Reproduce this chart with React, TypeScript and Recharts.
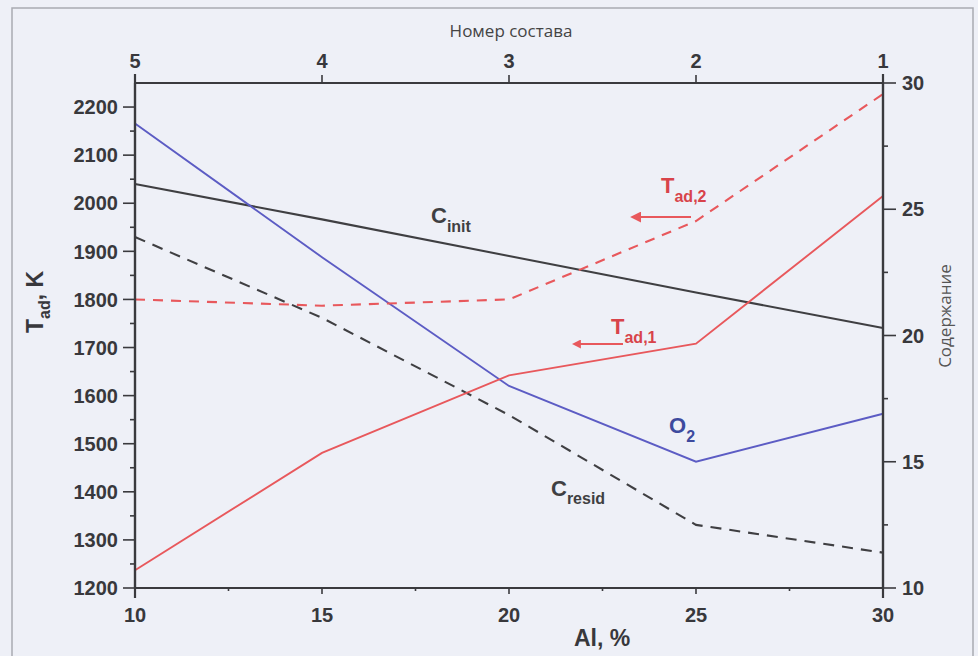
import React from 'react'
import { ComposedChart, Line, XAxis, YAxis } from 'recharts'

// Al content, % (bottom axis) and matching composition numbers (top axis)
const alPercent = [10, 15, 20, 25, 30]
const compositionNumbers = ['5', '4', '3', '2', '1']

// adiabatic temperatures, K (left axis)
const tad1 = [1237, 1481, 1642, 1708, 2015]
const tad2 = [1800, 1787, 1800, 1963, 2227]

// contents (right axis)
const o2 = [28.4, 23.1, 18.0, 15.0, 16.9]
const cInit = [26.0, 24.6, 23.15, 21.7, 20.3]
const cResid = [23.9, 20.7, 16.85, 12.5, 11.4]

const alTicks = [10, 12.5, 15, 17.5, 20, 22.5, 25, 27.5, 30]
const tempTicks = [
  1200, 1250, 1300, 1350, 1400, 1450, 1500, 1550, 1600, 1650, 1700, 1750,
  1800, 1850, 1900, 1950, 2000, 2050, 2100, 2150, 2200,
]
const contentTicks = [10, 12.5, 15, 17.5, 20, 22.5, 25, 27.5, 30]

const data = alPercent.map((al, i) => ({
  al,
  tad1: tad1[i],
  tad2: tad2[i],
  o2: o2[i],
  cInit: cInit[i],
  cResid: cResid[i],
}))

const axisColor = '#3a3a3e'
const labelColor = '#38383c'
const red = '#e8585c'
const redText = '#d8434a'
const blue = '#5c5cc4'
const blueText = '#3d4a9e'
const dark = '#3f3f42'
const font = '"Liberation Sans", Arial, sans-serif'

function LeftTick({ x, y, payload }: any) {
  const v = payload.value
  const major = v % 100 === 0
  return (
    <g>
      <line x1={x} x2={x - (major ? 12 : 5)} y1={y} y2={y} stroke={axisColor} strokeWidth={1.6} />
      {major && (
        <text x={x - 17} y={y} dy="0.36em" textAnchor="end" fontSize={20} fontWeight="bold" fontFamily={font} fill={labelColor}>
          {v}
        </text>
      )}
    </g>
  )
}

function RightTick({ x, y, payload }: any) {
  const v = payload.value
  const major = v % 5 === 0
  return (
    <g>
      <line x1={x} x2={x + (major ? 13 : 5)} y1={y} y2={y} stroke={axisColor} strokeWidth={1.6} />
      {major && (
        <text x={x + 19} y={y} dy="0.36em" textAnchor="start" fontSize={20} fontWeight="bold" fontFamily={font} fill={labelColor}>
          {v}
        </text>
      )}
    </g>
  )
}

function BottomTick({ x, y, payload }: any) {
  const v = payload.value
  const major = v % 5 === 0
  return (
    <g>
      {v !== 10 && v !== 30 && (
        <line x1={x} x2={x} y1={y} y2={y + (major ? 6 : 3)} stroke={axisColor} strokeWidth={1.6} />
      )}
      {major && (
        <text x={x} y={y + 34} textAnchor="middle" fontSize={20} fontWeight="bold" fontFamily={font} fill={labelColor}>
          {v}
        </text>
      )}
    </g>
  )
}

function TopTick({ x, y, payload, index }: any) {
  const v = payload.value
  return (
    <g>
      {v !== 10 && v !== 30 && (
        <line x1={x} x2={x} y1={y} y2={y - 8} stroke={axisColor} strokeWidth={1.6} />
      )}
      <text x={x} y={y - 15} textAnchor="middle" fontSize={20} fontWeight="bold" fontFamily={font} fill={labelColor}>
        {compositionNumbers[index]}
      </text>
    </g>
  )
}

export default function App() {
  return (
    <div style={{ position: 'absolute', left: 0, top: 0, width: 978, height: 656, background: '#eef0f7', overflow: 'hidden' }}>
      <ComposedChart width={978} height={656} data={data} margin={{ top: 53, right: 35, bottom: 38, left: 75 }}>
        <XAxis
          xAxisId="bottom"
          dataKey="al"
          type="number"
          domain={[10, 30]}
          ticks={alTicks}
          height={30}
          tickSize={0}
          tickMargin={0}
          tick={<BottomTick />}
          tickLine={false}
          axisLine={{ stroke: axisColor, strokeWidth: 2.2 }}
          interval={0}
        />
        <XAxis
          xAxisId="top"
          orientation="top"
          dataKey="al"
          type="number"
          domain={[10, 30]}
          ticks={alPercent}
          height={30}
          tickSize={0}
          tickMargin={0}
          tick={<TopTick />}
          tickLine={false}
          axisLine={{ stroke: axisColor, strokeWidth: 2.2 }}
          interval={0}
        />
        <YAxis
          yAxisId="left"
          type="number"
          domain={[1200, 2250]}
          ticks={tempTicks}
          width={60}
          tickSize={0}
          tickMargin={0}
          tick={<LeftTick />}
          tickLine={false}
          axisLine={{ stroke: axisColor, strokeWidth: 2.2 }}
          interval={0}
        />
        <YAxis
          yAxisId="right"
          orientation="right"
          type="number"
          domain={[10, 30]}
          ticks={contentTicks}
          width={60}
          tickSize={0}
          tickMargin={0}
          tick={<RightTick />}
          tickLine={false}
          axisLine={{ stroke: axisColor, strokeWidth: 2.2 }}
          interval={0}
        />
        <Line xAxisId="bottom" yAxisId="right" dataKey="cInit" type="linear" stroke={dark} strokeWidth={2.1} dot={false} isAnimationActive={false} />
        <Line xAxisId="bottom" yAxisId="right" dataKey="cResid" type="linear" stroke={dark} strokeWidth={2.1} strokeDasharray="11 8" dot={false} isAnimationActive={false} />
        <Line xAxisId="bottom" yAxisId="right" dataKey="o2" type="linear" stroke={blue} strokeWidth={1.9} dot={false} isAnimationActive={false} />
        <Line xAxisId="bottom" yAxisId="left" dataKey="tad2" type="linear" stroke={red} strokeWidth={2.1} strokeDasharray="10 8" dot={false} isAnimationActive={false} />
        <Line xAxisId="bottom" yAxisId="left" dataKey="tad1" type="linear" stroke={red} strokeWidth={1.9} dot={false} isAnimationActive={false} />
      </ComposedChart>
      <svg width={978} height={656} style={{ position: 'absolute', left: 0, top: 0, pointerEvents: 'none' }}>
        <defs>
          <marker id="arrowRed" viewBox="0 0 10 10" refX="1" refY="5" markerWidth="5" markerHeight="5" orient="auto-start-reverse">
            <path d="M0,0 L10,5 L0,10 z" fill={red} />
          </marker>
        </defs>
        <rect x={12} y={8} width={961} height={660} fill="none" stroke="#a9abb2" strokeWidth={1.5} />
        {/* axis extensions past the frame corners */}
        <line x1={135} x2={135} y1={74} y2={598} stroke={axisColor} strokeWidth={2.2} />
        <line x1={883} x2={883} y1={74} y2={598} stroke={axisColor} strokeWidth={2.2} />

        <text x={511} y={37} textAnchor="middle" fontSize={17} fontFamily='"Open Sans", sans-serif' fill="#444">
          Номер состава
        </text>
        <text x={602} y={646} textAnchor="middle" fontSize={23} fontWeight="bold" fontFamily={font} fill={labelColor}>
          Al, %
        </text>
        <text transform="translate(43,302) rotate(-90)" textAnchor="middle" fontSize={23} fontWeight="bold" fontFamily={font} fill={labelColor}>
          T<tspan fontSize={16} dy={7}>ad</tspan>
          <tspan dy={-7}>, K</tspan>
        </text>
        <text transform="translate(951,316) rotate(-90)" textAnchor="middle" fontSize={17} fontFamily='"Open Sans", sans-serif' fill="#555">
          Содержание
        </text>

        <text x={431} y={223} fontSize={22} fontWeight="bold" fontFamily={font} fill={dark}>
          C<tspan fontSize={16} dy={9}>init</tspan>
        </text>
        <text x={551} y={496} fontSize={22} fontWeight="bold" fontFamily={font} fill={dark}>
          C<tspan fontSize={16} dy={8}>resid</tspan>
        </text>
        <text x={669} y={433} fontSize={22} fontWeight="bold" fontFamily={font} fill={blueText}>
          O<tspan fontSize={16} dy={9}>2</tspan>
        </text>
        <text x={611} y={334} fontSize={22} fontWeight="bold" fontFamily={font} fill={redText}>
          T<tspan fontSize={16} dy={9}>ad,1</tspan>
        </text>
        <text x={661} y={193} fontSize={22} fontWeight="bold" fontFamily={font} fill={redText}>
          T<tspan fontSize={16} dy={9}>ad,2</tspan>
        </text>
        <line x1={623} x2={580} y1={344} y2={344} stroke={red} strokeWidth={1.8} markerEnd="url(#arrowRed)" />
        <line x1={691} x2={640} y1={217} y2={217} stroke={red} strokeWidth={2.2} markerEnd="url(#arrowRed)" />
      </svg>
    </div>
  )
}
